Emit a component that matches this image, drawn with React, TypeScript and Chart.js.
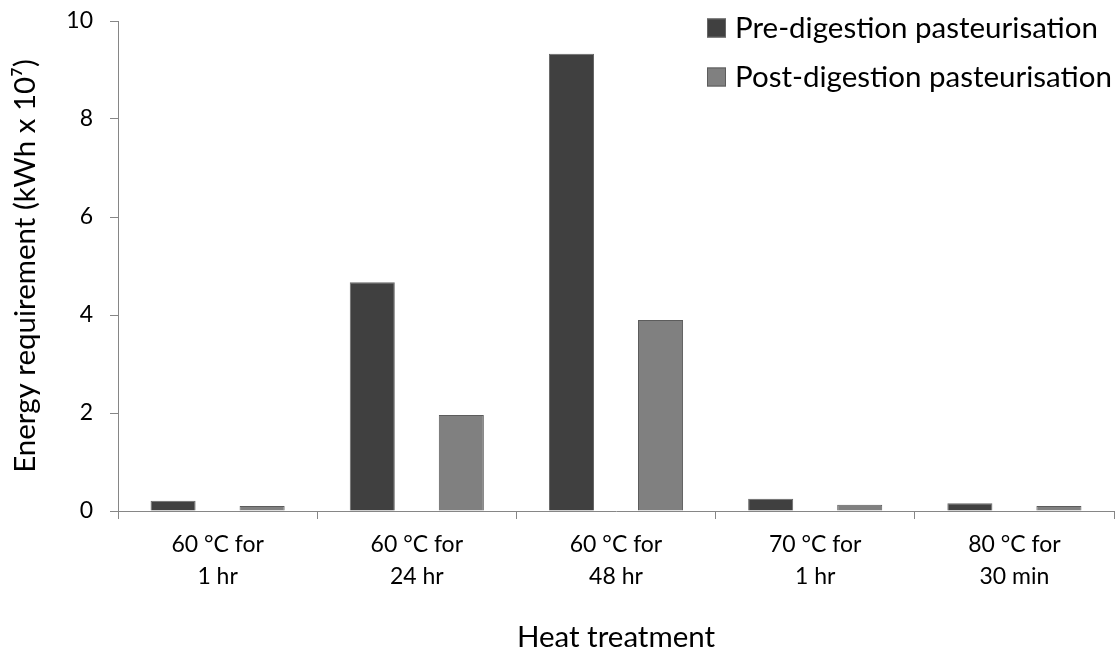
import React, { useEffect, useRef } from "react";
import { Chart, registerables } from "chart.js";

Chart.register(...registerables);

const categories: string[][] = [
  ["60 °C for", "1 hr"],
  ["60 °C for", "24 hr"],
  ["60 °C for", "48 hr"],
  ["70 °C for", "1 hr"],
  ["80 °C for", "30 min"],
];
const preDigestion: number[] = [0.21, 4.67, 9.33, 0.25, 0.16];
const postDigestion: number[] = [0.1, 1.96, 3.9, 0.13, 0.1];
const seriesNames: string[] = ["Pre-digestion pasteurisation", "Post-digestion pasteurisation"];
const yTitle = "Energy requirement (kWh x 10⁷)";
const xTitle = "Heat treatment";

const FONT = "Lato";
const AXIS = "#868686";

const legendPlugin = {
  id: "cornerLegend",
  afterDraw(chart: any) {
    const ctx = chart.ctx;
    const left = chart.width - 411;
    const rows = [28, 77];
    ctx.save();
    chart.data.datasets.forEach((ds: any, i: number) => {
      const cy = rows[i];
      ctx.fillStyle = ds.backgroundColor;
      ctx.fillRect(left, cy - 9.5, 19, 19);
      ctx.strokeStyle = ds.borderColor;
      ctx.lineWidth = 1;
      ctx.strokeRect(left + 0.5, cy - 9, 18, 18);
      ctx.fillStyle = "#000";
      ctx.font = `29.5px ${FONT}`;
      ctx.textBaseline = "middle";
      ctx.textAlign = "left";
      ctx.fillText(ds.label, left + 28, cy);
    });
    ctx.restore();
  },
};

export default function App() {
  const ref = useRef<HTMLCanvasElement | null>(null);
  useEffect(() => {
    if (!ref.current) return;
    const chart = new Chart(ref.current, {
      type: "bar",
      data: {
        labels: categories,
        datasets: [
          {
            label: seriesNames[0],
            data: preDigestion,
            backgroundColor: "#404040",
            borderColor: "#666666",
            borderWidth: 1,
            categoryPercentage: 0.894,
            barPercentage: 0.506,
          },
          {
            label: seriesNames[1],
            data: postDigestion,
            backgroundColor: "#808080",
            borderColor: "#5c5c5c",
            borderWidth: 1,
            categoryPercentage: 0.894,
            barPercentage: 0.506,
          },
        ],
      },
      options: {
        animation: false,
        responsive: true,
        maintainAspectRatio: false,
        layout: { padding: { top: 21, right: 4, left: 0, bottom: 0 } },
        plugins: {
          legend: { display: false },
          tooltip: { enabled: false },
        },
        scales: {
          x: {
            grid: {
              display: true,
              drawOnChartArea: false,
              drawTicks: true,
              tickLength: 8,
              color: AXIS,
              offset: true,
            },
            border: { display: true, color: AXIS, width: 1 },
            ticks: {
              color: "#000",
              font: { family: FONT, size: 23, lineHeight: 1.39 },
              padding: 10,
              maxRotation: 0,
              autoSkip: false,
            },
            title: {
              display: true,
              text: xTitle,
              color: "#000",
              font: { family: FONT, size: 29.5, lineHeight: 1.2 },
              padding: { top: 0, bottom: 0 },
            },
            afterFit(scale: any) {
              scale.height = 144;
              scale.paddingLeft = 0;
              scale.paddingRight = 0;
            },
          },
          y: {
            min: 0,
            max: 10,
            ticks: {
              stepSize: 2,
              color: "#000",
              font: { family: FONT, size: 23 },
              padding: 17,
            },
            grid: {
              display: true,
              drawOnChartArea: false,
              drawTicks: true,
              tickLength: 8,
              color: AXIS,
            },
            border: { display: true, color: AXIS, width: 1 },
            title: {
              display: true,
              text: yTitle,
              color: "#000",
              font: { family: FONT, size: 29.5, lineHeight: 1.2 },
              padding: { top: 8, bottom: 0 },
            },
            afterFit(scale: any) {
              scale.width = 118;
              scale.paddingTop = 0;
              scale.paddingBottom = 0;
            },
          },
        },
      },
      plugins: [legendPlugin],
    });
    return () => chart.destroy();
  }, []);
  return (
    <div style={{ position: "fixed", left: 0, top: 0, width: 1118, height: 655, background: "#fff" }}>
      <canvas ref={ref} />
    </div>
  );
}
